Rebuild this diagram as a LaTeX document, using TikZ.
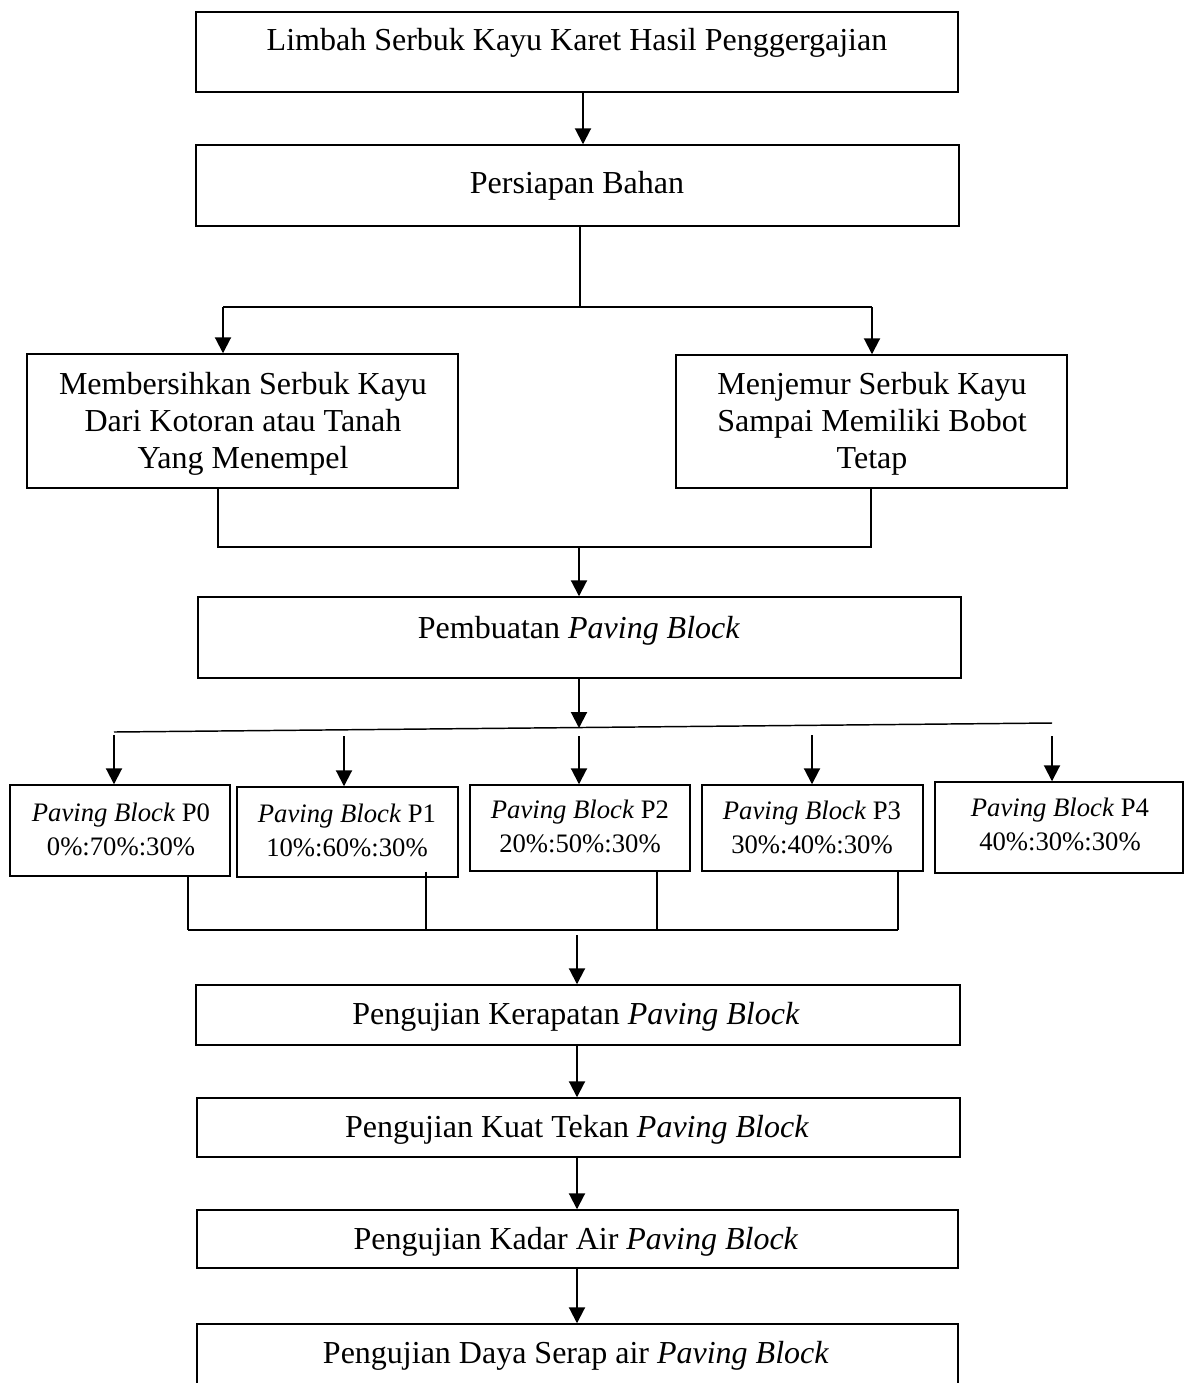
\documentclass[tikz,border=0pt]{standalone}
\usepackage{fontspec}
\setmainfont{Liberation Serif}
\usetikzlibrary{arrows.meta,fit,calc}
\begin{document}
\begin{tikzpicture}[x=0.375pt,y=-0.375pt,
  box/.style={draw,line width=0.55pt,inner sep=0pt},
  txt/.style={inner sep=0pt,font=\fontsize{12}{13.9}\selectfont,align=center},
  ptxt/.style={inner sep=0pt,font=\fontsize{10}{12.8}\selectfont,align=center},
  ln/.style={line width=0.55pt},
  arr/.style={line width=0.75pt,-{Triangle[length=6pt,width=6pt]}}]
\fill[white] (0,0) rectangle (1186,1383);
\clip (0,0) rectangle (1186,1383);

% boxes
\node[box,fit={(196,12)(958,92)}] (b1) {};
\node[box,fit={(196,145)(959,226)}] (b2) {};
\node[box,fit={(27,354)(458,488)}] (b3) {};
\node[box,fit={(676,355)(1067,488)}] (b4) {};
\node[box,fit={(198,597)(961,678)}] (b5) {};
\node[box,fit={(10,785)(230,876)}] (p0) {};
\node[box,fit={(237,787)(458,877)}] (p1) {};
\node[box,fit={(470,785)(690,871)}] (p2) {};
\node[box,fit={(702,785)(923,871)}] (p3) {};
\node[box,fit={(935,782)(1183,873)}] (p4) {};
\node[box,fit={(196,985)(960,1045)}] (k1) {};
\node[box,fit={(197,1098)(960,1157)}] (k2) {};
\node[box,fit={(197,1210)(958,1268)}] (k3) {};
\node[box,fit={(197,1324)(958,1420)}] (k4) {};

% texts
\node[txt,anchor=base] (t1) at (577,50) {Limbah Serbuk Kayu Karet Hasil Penggergajian};
\node[txt,anchor=base] (t2) at (577,193) {Persiapan Bahan};
\node[txt] (t3) at (243,424) {Membersihkan Serbuk Kayu\\Dari Kotoran atau Tanah\\Yang Menempel};
\node[txt] (t4) at (872,424) {Menjemur Serbuk Kayu\\Sampai Memiliki Bobot\\Tetap};
\node[txt,anchor=base] (t5) at (579,638) {Pembuatan \textit{Paving Block}};
\node[ptxt] (tp0) at (121,829) {\textit{Paving Block} P0\\0\%:70\%:30\%};
\node[ptxt] (tp1) at (347,830) {\textit{Paving Block} P1\\10\%:60\%:30\%};
\node[ptxt] (tp2) at (580,826) {\textit{Paving Block} P2\\20\%:50\%:30\%};
\node[ptxt] (tp3) at (812,827) {\textit{Paving Block} P3\\30\%:40\%:30\%};
\node[ptxt] (tp4) at (1060,824) {\textit{Paving Block} P4\\40\%:30\%:30\%};
\node[txt,anchor=base] (t6) at (576,1024) {Pengujian Kerapatan \textit{Paving Block}};
\node[txt,anchor=base] (t7) at (577,1137) {Pengujian Kuat Tekan \textit{Paving Block}};
\node[txt,anchor=base] (t8) at (576,1249) {Pengujian Kadar Air \textit{Paving Block}};
\node[txt,anchor=base] (t9) at (576,1363) {Pengujian Daya Serap air \textit{Paving Block}};

% coordinates
\coordinate (xa) at (583,0);
\coordinate (j1) at (580,307);
\coordinate (jL) at (223,307);
\coordinate (jR) at (872,307);
\coordinate (m1) at (218,547);
\coordinate (m2) at (871,547);
\coordinate (m3) at (579,547);
\coordinate (s0) at (579,728);
\coordinate (sL) at (114,732);
\coordinate (sR) at (1052,723);
\coordinate (a0) at (114,735);
\coordinate (a1) at (344,736);
\coordinate (a2) at (579,736);
\coordinate (a3) at (812,735);
\coordinate (a4) at (1052,736);
\coordinate (q0) at (188,930);
\coordinate (q1) at (426,930);
\coordinate (q2) at (657,930);
\coordinate (q3) at (898,930);
\coordinate (q4) at (577,935);

% connectors
\draw[arr] (b1.south -| xa) -- (b2.north -| xa);
\draw[ln] (b2.south -| j1) -- (j1);
\draw[ln] (jL) -- (jR);
\draw[arr] (jL) -- (b3.north -| jL);
\draw[arr] (jR) -- (b4.north -| jR);
\draw[ln] (b3.south -| m1) -- (m1) -- (m2) -- (b4.south -| m2);
\draw[arr] (m3) -- (b5.north -| m3);
\draw[arr] (b5.south -| s0) -- (s0);
\draw[ln] (sL) -- (sR);
\draw[arr] (a0) -- (p0.north -| a0);
\draw[arr] (a1) -- (p1.north -| a1);
\draw[arr] (a2) -- (p2.north -| a2);
\draw[arr] (a3) -- (p3.north -| a3);
\draw[arr] (a4) -- (p4.north -| a4);
\draw[ln] (p0.south -| q0) -- (q0);
\draw[ln] ($(p1.south -| q1)+(0,-6)$) -- (q1);
\draw[ln] (p2.south -| q2) -- (q2);
\draw[ln] (p3.south -| q3) -- (q3);
\draw[ln] (q0) -- (q3);
\draw[arr] (q4) -- (k1.north -| q4);
\draw[arr] (k1.south -| q4) -- (k2.north -| q4);
\draw[arr] (k2.south -| q4) -- (k3.north -| q4);
\draw[arr] (k3.south -| q4) -- (k4.north -| q4);
\end{tikzpicture}
\end{document}
